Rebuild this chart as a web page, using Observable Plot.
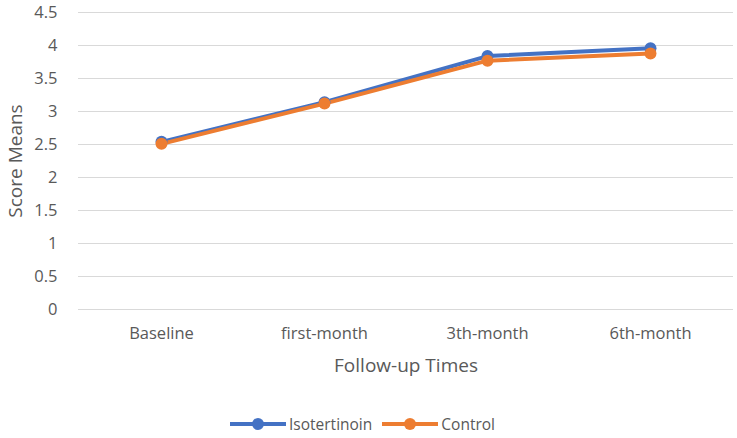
<!DOCTYPE html>
<html>
<head>
<meta charset="utf-8">
<script src="https://cdn.jsdelivr.net/npm/d3@7"></script>
<script src="https://cdn.jsdelivr.net/npm/@observablehq/plot@0.6"></script>
<style>
  html, body { margin: 0; padding: 0; background: #fff; }
  body { width: 737px; height: 438px; overflow: hidden; font-family: "Open Sans", sans-serif; }
  #chart svg { display: block; overflow: visible; }
  #legend { display: flex; justify-content: center; align-items: center; gap: 10px; height: 33px; font-size: 15.5px; color: #595959; margin-top: 7px; padding-right: 12px; }
  .item { display: flex; align-items: center; gap: 3px; }
</style>
</head>
<body>
<div id="chart"></div>
<div id="legend"></div>
<script>
const categories = ["Baseline", "first-month", "3th-month", "6th-month"];
const seriesNames = ["Isotertinoin", "Control"];
const isotertinoin = [2.54, 3.14, 3.84, 3.96];
const control = [2.51, 3.12, 3.77, 3.88];
const colors = ["#4472C4", "#ED7D31"];
const yTicks = [0, 0.5, 1, 1.5, 2, 2.5, 3, 3.5, 4, 4.5];
const xTitle = "Follow-up Times";
const yTitle = "Score Means";

const data = [];
categories.forEach((c, i) => {
  data.push({cat: c, value: isotertinoin[i], series: seriesNames[0]});
  data.push({cat: c, value: control[i], series: seriesNames[1]});
});

const plot = Plot.plot({
  width: 737,
  height: 400,
  marginTop: 12,
  marginBottom: 91,
  marginLeft: 78,
  marginRight: 4,
  style: {fontFamily: "'Open Sans', sans-serif", fontSize: "16px", color: "#595959", background: "#fff", overflow: "visible"},
  x: {type: "point", domain: categories, padding: 0.5, label: null},
  y: {domain: [0, 4.5], label: null},
  color: {domain: seriesNames, range: colors},
  marks: [
    Plot.gridY(yTicks, {stroke: "#d9d9d9", strokeOpacity: 1, strokeWidth: 1}),
    Plot.axisY(yTicks, {tickSize: 0, tickPadding: 21, tickFormat: d => String(d), fontSize: 16.5, label: null}),
    Plot.axisX({tickSize: 0, tickPadding: 18, fontSize: 16.5, label: null}),
    Plot.text([yTitle], {text: d => d, frameAnchor: "left", rotate: -90, dx: -63, fontSize: 19, textAnchor: "middle"}),
    Plot.text([xTitle], {text: d => d, frameAnchor: "bottom", dy: 62, fontSize: 19, textAnchor: "middle"}),
    Plot.line(data, {x: "cat", y: "value", z: "series", stroke: "series", strokeWidth: 4, sort: null}),
    Plot.dot(data, {x: "cat", y: "value", fill: "series", r: 6, stroke: null})
  ]
});
document.getElementById("chart").appendChild(plot);

// legend
const legend = d3.select("#legend");
seriesNames.forEach((name, i) => {
  const item = legend.append("div").attr("class", "item");
  const svg = item.append("svg").attr("width", 56).attr("height", 14);
  svg.append("line").attr("x1", 0).attr("x2", 56).attr("y1", 7).attr("y2", 7)
    .attr("stroke", colors[i]).attr("stroke-width", 4);
  svg.append("circle").attr("cx", 28).attr("cy", 7).attr("r", 6).attr("fill", colors[i]);
  item.append("span").text(name);
});
</script>
</body>
</html>
